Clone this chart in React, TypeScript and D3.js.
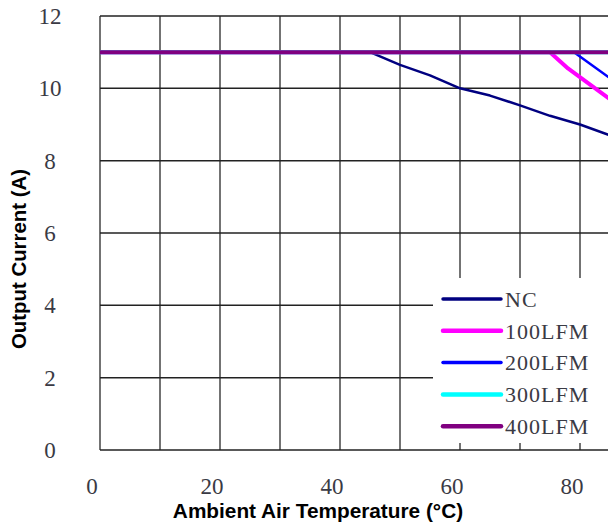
import * as d3 from 'd3';
import React, { useRef, useEffect } from 'react';

// derating curves: temperature (°C) vs output current (A)
const ncTemp = [0, 45, 50, 55, 60, 65, 70, 75, 80, 85, 90];
const ncCurrent = [11, 11, 10.65, 10.36, 10.0, 9.8, 9.53, 9.24, 9.0, 8.7, 8.4];
const lfm100Temp = [0, 75, 78, 85, 90];
const lfm100Current = [11, 11, 10.55, 9.7, 9.1];
const lfm200Temp = [0, 79, 85, 90];
const lfm200Current = [11, 11, 10.28, 9.6];
const lfm300Temp = [0, 90];
const lfm300Current = [11, 11];
const lfm400Temp = [0, 90];
const lfm400Current = [11, 11];

const seriesNames = ['NC', '100LFM', '200LFM', '300LFM', '400LFM'];
const seriesColors = ['#000080', '#ff00ff', '#0000ff', '#00ffff', '#800080'];
const seriesWidths = [2.5, 4, 2.5, 4, 4];

const xTicks = [0, 10, 20, 30, 40, 50, 60, 70, 80, 90, 100];
const xTickLabels = [0, 20, 40, 60, 80];
const yTicks = [0, 2, 4, 6, 8, 10, 12];

const width = 608;
const height = 525;

const App: React.FC = () => {
    const ref = useRef<SVGSVGElement | null>(null);

    useEffect(() => {
        const svg = d3.select(ref.current);
        svg.selectAll('*').remove();

        const x = d3.scaleLinear().domain([0, 100]).range([100, 700]);
        const y = d3.scaleLinear().domain([0, 12]).range([450, 16]);

        const tickFont = '"Liberation Serif", "DejaVu Serif", serif';
        const titleFont = '"Liberation Sans", Arial, sans-serif';

        // grid
        const grid = svg.append('g');
        grid.selectAll('line.v')
            .data(xTicks)
            .join('line')
            .attr('class', 'v')
            .attr('x1', (d) => x(d))
            .attr('x2', (d) => x(d))
            .attr('y1', y(12))
            .attr('y2', y(0))
            .attr('stroke', '#444')
            .attr('stroke-width', 1.5);
        grid.selectAll('line.h')
            .data(yTicks)
            .join('line')
            .attr('class', 'h')
            .attr('x1', x(0))
            .attr('x2', x(100))
            .attr('y1', (d) => y(d))
            .attr('y2', (d) => y(d))
            .attr('stroke', '#222')
            .attr('stroke-width', 1.5);

        // tick labels
        svg.append('g')
            .selectAll('text')
            .data(yTicks)
            .join('text')
            .attr('x', 50)
            .attr('y', (d) => y(d))
            .attr('dy', '0.35em')
            .attr('text-anchor', 'middle')
            .style('font-family', tickFont)
            .style('font-size', '23px')
            .attr('fill', '#3a3a44')
            .text((d) => d);

        svg.append('g')
            .selectAll('text')
            .data(xTickLabels)
            .join('text')
            .attr('x', (d) => x(d) - 8)
            .attr('y', 486)
            .attr('dy', '0.35em')
            .attr('text-anchor', 'middle')
            .style('font-family', tickFont)
            .style('font-size', '23px')
            .attr('fill', '#3a3a44')
            .text((d) => d);

        // axis titles
        svg.append('text')
            .attr('x', 318)
            .attr('y', 511)
            .attr('dy', '0.35em')
            .attr('text-anchor', 'middle')
            .style('font-family', titleFont)
            .style('font-weight', 'bold')
            .style('font-size', '20.8px')
            .text('Ambient Air Temperature (°C)');

        svg.append('text')
            .attr('transform', 'translate(19, 259) rotate(-90)')
            .attr('dy', '0.35em')
            .attr('text-anchor', 'middle')
            .style('font-family', titleFont)
            .style('font-weight', 'bold')
            .style('font-size', '20.4px')
            .text('Output Current (A)');

        // curves
        const series = [
            { t: ncTemp, c: ncCurrent },
            { t: lfm100Temp, c: lfm100Current },
            { t: lfm200Temp, c: lfm200Current },
            { t: lfm300Temp, c: lfm300Current },
            { t: lfm400Temp, c: lfm400Current },
        ];
        const line = d3
            .line<[number, number]>()
            .x((d) => x(d[0]))
            .y((d) => y(d[1]));

        svg.append('g')
            .selectAll('path')
            .data(series)
            .join('path')
            .attr('d', (s) => line(s.t.map((t, i) => [t, s.c[i]] as [number, number])))
            .attr('fill', 'none')
            .attr('stroke', (_, i) => seriesColors[i])
            .attr('stroke-width', (_, i) => seriesWidths[i])
            .attr('stroke-linejoin', 'round');

        // legend (white box over the grid)
        const legend = svg.append('g');
        legend.append('rect')
            .attr('x', 433)
            .attr('y', 278)
            .attr('width', 200)
            .attr('height', 165)
            .attr('fill', 'white');
        const item = legend
            .selectAll('g')
            .data(seriesNames)
            .join('g')
            .attr('transform', (_, i) => `translate(0, ${299 + i * 31.8})`);
        item.append('line')
            .attr('x1', 443)
            .attr('x2', 501)
            .attr('stroke', (_, i) => seriesColors[i])
            .attr('stroke-width', (_, i) => (i === 0 || i === 2 ? 3.5 : 4.5))
            .attr('stroke-linecap', 'round');
        item.append('text')
            .attr('x', 505)
            .attr('dy', '0.35em')
            .style('font-family', tickFont)
            .style('font-size', '22px')
            .style('letter-spacing', '1px')
            .attr('fill', '#3a3a44')
            .text((d) => d);
    }, []);

    return (
        <svg
            ref={ref}
            width={width}
            height={height}
            style={{ position: 'absolute', left: 0, top: 0, background: 'white' }}
        />
    );
};

export default App;
